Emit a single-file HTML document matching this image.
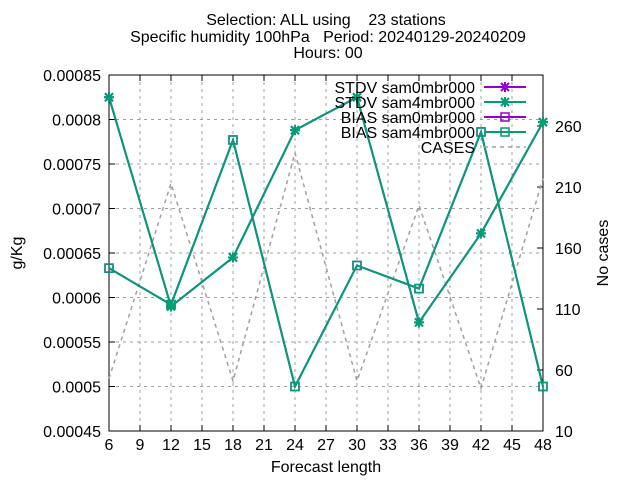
<!DOCTYPE html>
<html><head><meta charset="utf-8"><style>body{margin:0;background:#fff}svg{font-family:"Liberation Sans",sans-serif}</style></head>
<body>
<svg id="c" width="640" height="480" viewBox="0 0 640 480">
<rect width="640" height="480" fill="#fff"/>
<g font-size="16" text-anchor="middle" fill="#000">
<text x="326" y="25" xml:space="preserve">Selection: ALL using    23 stations</text>
<text x="328" y="42" xml:space="preserve">Specific humidity 100hPa   Period: 20240129-20240209</text>
<text x="328" y="58">Hours: 00</text>
</g>
<g id="grid"></g><g id="axes"></g><g id="series"></g><g id="legend"></g>
<text x="22" y="253" font-size="16" text-anchor="middle" transform="rotate(-90 22 253)">g/Kg</text>
<text x="608" y="253" font-size="16" text-anchor="middle" transform="rotate(-90 608 253)">No cases</text>
<text x="326" y="472" font-size="16" text-anchor="middle">Forecast length</text>
</svg>
<script>
const xs=[6,12,18,24,30,36,42,48];
const stdv0=[0.000825,0.00059,0.000645,0.000788,0.000825,0.000572,0.000672,0.000797];
const stdv4=[0.000825,0.00059,0.000645,0.000788,0.000825,0.000572,0.000672,0.000797];
const bias0=[0.000633,0.000592,0.000777,0.0005,0.000636,0.00061,0.000786,0.0005];
const bias4=[0.000633,0.000592,0.000777,0.0005,0.000636,0.00061,0.000786,0.0005];
const cases=[53,213,51,238,51,195,45,217];
const xTicks=[6,9,12,15,18,21,24,27,30,33,36,39,42,45,48];
const yTicks=[0.00045,0.0005,0.00055,0.0006,0.00065,0.0007,0.00075,0.0008,0.00085];
const yLabels=["0.00045","0.0005","0.00055","0.0006","0.00065","0.0007","0.00075","0.0008","0.00085"];
const y2Ticks=[10,60,110,160,210,260];
const L=109,R=543,T=75,B=431;
const X=v=>L+(v-6)/42*(R-L);
const Y=v=>B-(v-0.00045)/0.0004*(B-T);
const Y2=v=>B-(v-10)*1.22;
const NS='http://www.w3.org/2000/svg';
function mk(p,t,a){const e=document.createElementNS(NS,t);for(const k in a)e.setAttribute(k,a[k]);p.appendChild(e);return e;}
const g=document.getElementById('grid'),ax=document.getElementById('axes'),s=document.getElementById('series'),lg=document.getElementById('legend');
xTicks.forEach(v=>{const x=X(v);
 if(v>6&&v<48){const l=mk(g,'line',{x1:x,x2:x,y1:T,y2:B,stroke:'#a0a0a0','stroke-dasharray':'3,4'});}
 mk(ax,'line',{x1:x,x2:x,y1:B,y2:B-6,stroke:'#000'});mk(ax,'line',{x1:x,x2:x,y1:T,y2:T+6,stroke:'#000'});
 const t=mk(ax,'text',{x:x,y:B+19,'font-size':16,'text-anchor':'middle'});t.textContent=v;
 });
yTicks.forEach((v,i)=>{const y=Y(v);
 if(i>0&&i<yTicks.length-1){const l=mk(g,'line',{x1:L,x2:R,y1:y,y2:y,stroke:'#a0a0a0','stroke-dasharray':'3,4'});}
 mk(ax,'line',{x1:L,x2:L+6,y1:y,y2:y,stroke:'#000'});
 const t=mk(ax,'text',{x:L-8,y:y+6,'font-size':16,'text-anchor':'end'});t.textContent=yLabels[i];
 });
y2Ticks.forEach(v=>{const y=Y2(v);mk(ax,'line',{x1:R,x2:R-6,y1:y,y2:y,stroke:'#000'});
 const t=mk(ax,'text',{x:R+12,y:y+6,'font-size':16});t.textContent=v;
 });
const fr=mk(ax,'rect',{x:L,y:T,width:R-L,height:B-T,fill:'none',stroke:'#000'});

function cross(p,x,y,c){mk(p,'path',{d:`M${x-4} ${y-4}L${x+4} ${y+4}M${x-4} ${y+4}L${x+4} ${y-4}M${x-5} ${y}L${x+5} ${y}M${x} ${y-5}L${x} ${y+5}`,stroke:c,'stroke-width':2});}
function sq(p,x,y,c){mk(p,'rect',{x:x-4,y:y-4,width:8,height:8,fill:'none',stroke:c,'stroke-width':1.5});}
function series(vals,yf,c,mark,name,dash){
 const pts=vals.map((v,i)=>X(xs[i])+','+yf(v)).join(' ');
 const pl=mk(s,'polyline',{points:pts,fill:'none',stroke:c,'stroke-width':dash?1.5:2,'stroke-dasharray':dash||'none'});
 
 if(mark)vals.forEach((v,i)=>mark(s,X(xs[i]),yf(v),c));}
const P='#9400d3',G='#009e73',C='#a0a0a0';
series(cases,Y2,C,null,'cases-line','4,4');
series(stdv0,Y,P,cross,'stdv-sam0-line');
series(bias0,Y,P,sq,'bias-sam0-line');
series(stdv4,Y,G,cross,'stdv-sam4-line');
series(bias4,Y,G,sq,'bias-sam4-line');
const le=[['STDV sam0mbr000',P,cross],['STDV sam4mbr000',G,cross],['BIAS sam0mbr000',P,sq],['BIAS sam4mbr000',G,sq],['CASES',C,null]];
le.forEach((e,i)=>{const y=87+i*15;
 const t=mk(lg,'text',{x:475,y:y+6,'font-size':16,'text-anchor':'end'});t.textContent=e[0];
 
 mk(lg,'line',{x1:484,x2:526,y1:y,y2:y,stroke:e[1],'stroke-width':e[2]?2:1.5,'stroke-dasharray':e[2]?'none':'4,4'});
 if(e[2])e[2](lg,505,y,e[1]);});
</script>
</body></html>
